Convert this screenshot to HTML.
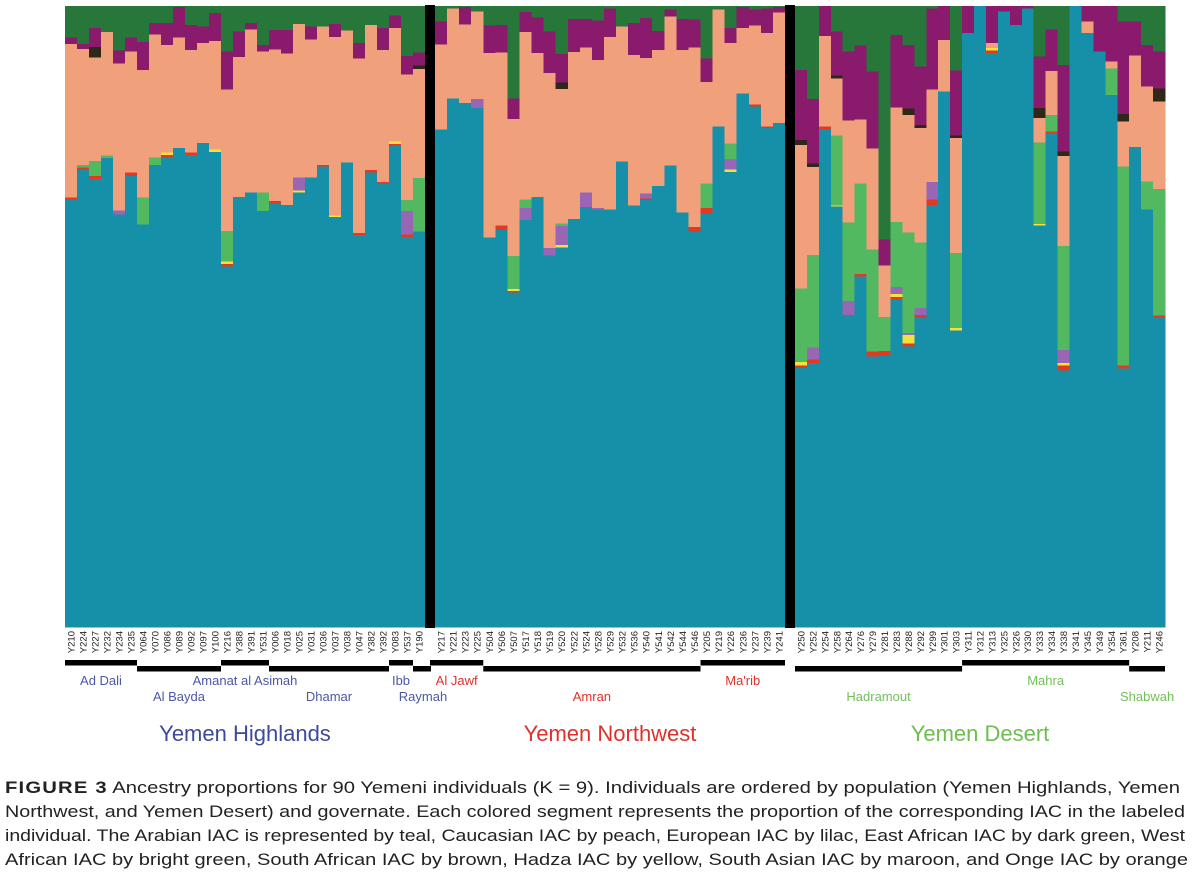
<!DOCTYPE html>
<html><head><meta charset="utf-8"><style>
body{margin:0;background:#fff;width:1200px;height:879px;overflow:hidden}
svg{display:block}
</style></head><body>
<svg id="chart" width="1200" height="879" viewBox="0 0 1200 879" xmlns="http://www.w3.org/2000/svg" font-family="Liberation Sans, sans-serif">
<g id="bars" shape-rendering="crispEdges"></g>
<g id="seps"></g>
<g id="ticks"></g>
<g id="gov"></g>
<text x="245" y="741" font-size="22" fill="#3d4a9c" text-anchor="middle">Yemen Highlands</text>
<text x="610" y="741" font-size="22" fill="#e0302c" text-anchor="middle">Yemen Northwest</text>
<text x="980" y="741" font-size="22" fill="#6cbf4e" text-anchor="middle">Yemen Desert</text>
<g font-size="17" fill="#222">
<text x="5" y="793" textLength="1175" lengthAdjust="spacingAndGlyphs"><tspan font-weight="bold" letter-spacing="1">FIGURE 3</tspan>   Ancestry proportions for 90 Yemeni individuals (K = 9). Individuals are ordered by population (Yemen Highlands, Yemen</text>
<text x="5" y="817" textLength="1180" lengthAdjust="spacingAndGlyphs">Northwest, and Yemen Desert) and governate. Each colored segment represents the proportion of the corresponding IAC in the labeled</text>
<text x="5" y="841" textLength="1180" lengthAdjust="spacingAndGlyphs">individual. The Arabian IAC is represented by teal, Caucasian IAC by peach, European IAC by lilac, East African IAC by dark green, West</text>
<text x="5" y="865" textLength="1183" lengthAdjust="spacingAndGlyphs">African IAC by bright green, South African IAC by brown, Hadza IAC by yellow, South Asian IAC by maroon, and Onge IAC by orange</text>
</g>
</svg>
<script>
const samples = ["Y210","Y224","Y227","Y232","Y234","Y235","Y064","Y070","Y086","Y089","Y092","Y097","Y100","Y216","Y388","Y391","Y531","Y006","Y018","Y025","Y031","Y036","Y037","Y038","Y047","Y382","Y392","Y083","Y537","Y190",
"Y217","Y221","Y223","Y225","Y504","Y506","Y507","Y517","Y518","Y519","Y520","Y522","Y524","Y528","Y529","Y532","Y536","Y540","Y541","Y542","Y544","Y546","Y205","Y219","Y226","Y236","Y237","Y239","Y241",
"Y250","Y252","Y254","Y258","Y264","Y276","Y279","Y281","Y283","Y288","Y292","Y299","Y301","Y303","Y311","Y312","Y313","Y325","Y326","Y330","Y333","Y334","Y338","Y341","Y345","Y349","Y354","Y361","Y208","Y211","Y246"];
const teal = [69.0,73.8,72.2,75.6,66.4,72.8,64.9,74.5,75.7,77.2,76.1,78.0,76.6,58.1,69.2,70.1,67.1,68.3,68.0,70.0,72.4,74.2,66.0,74.9,63.2,73.3,71.5,77.6,62.9,63.7,
80.2,85.2,84.4,83.6,62.8,64.0,53.9,65.5,69.3,59.8,61.2,65.7,67.8,67.3,67.3,75.0,67.9,68.8,71.1,74.4,66.8,63.7,66.5,80.7,73.3,86.0,83.9,80.4,81.2,
41.7,42.5,80.2,67.7,50.3,56.5,43.7,43.7,52.8,45.2,49.8,68.0,86.3,47.8,95.7,100,92.5,99.2,97.0,99.7,64.7,79.6,41.4,100,95.7,92.7,85.8,41.7,77.3,67.3,49.9];
const onge = [.3,.3,.5,0,0,.5,0,0,.4,0,.4,0,0,.4,0,0,0,.4,0,0,0,.3,0,0,.3,.4,.2,.3,.4,0,
0,0,0,0,0,.7,.3,0,0,0,0,0,0,0,0,0,0,.3,0,0,0,.8,1.0,0,0,0,.3,.3,0,
.4,.6,.4,0,0,.4,.8,.8,.4,.5,.5,.9,0,0,0,0,.4,0,0,0,0,.3,.8,0,0,0,0,.5,0,0,.3];
const hadza = [0,0,0,0,0,0,0,0,.4,0,0,0,.4,.4,0,0,0,0,0,.3,0,0,.3,0,0,0,0,.4,0,0,
0,0,0,0,0,0,.3,0,0,0,.4,0,0,0,0,0,0,0,0,0,0,0,0,0,.4,0,0,0,0,
.6,0,0,.2,0,0,0,0,.5,1.3,0,0,0,.4,0,0,.4,0,0,0,.3,0,.4,0,0,0,0,0,0,0,0];
const european = [0,0,0,0,.7,0,0,0,0,0,0,0,0,0,0,0,0,0,0,2.1,0,0,0,0,0,0,0,0,3.8,0,
0,0,0,1.5,0,0,0,2.0,0,1.2,3.1,0,2.3,.2,0,0,0,.8,0,0,0,0,0,0,1.7,0,0,0,0,
0,1.9,0,0,2.3,0,0,0,1.1,.4,1.1,2.8,0,0,0,0,0,0,0,0,0,0,2.1,0,0,0,0,0,0,0,0];
const westAfrican = [0,.4,2.4,.4,0,0,4.3,1.2,0,0,0,0,0,4.9,0,0,3.0,0,0,0,0,0,0,0,0,0,0,0,1.8,8.6,
0,0,0,0,0,0,5.3,1.3,0,0,.4,0,0,0,0,0,0,0,0,0,0,0,3.9,0,2.5,0,0,0,0,
11.8,14.9,0,11.2,12.6,14.6,16.4,5.4,10.5,16.1,10.6,0,0,12.1,0,0,0,0,0,0,13.1,2.7,16.7,0,0,0,4.3,32.0,0,4.5,20.4];
const caucasian = [24.7,18.7,16.7,19.9,23.6,19.5,20.6,19.8,17.3,17.8,16.5,16.1,17.5,22.8,22.6,26.3,22.7,24.4,24.4,24.7,22.2,22.3,28.7,21.2,28.1,23.4,21.3,18.3,20.2,17.5,
13.7,14.5,12.6,14.1,29.7,27.9,22.1,27.0,23.2,28.2,21.7,26.9,23.4,23.9,27.8,21.8,24.3,21.8,21.9,24.0,26.2,28.9,16.3,18.8,16.2,10.5,12.7,15.0,17.8,
23.1,14.2,14.5,9.2,16.4,10.3,16.3,8.3,18.4,18.9,18.4,14.9,8.3,18.5,0,0,.8,0,0,0,3.9,7.1,14.5,0,1.9,0,1.1,7.3,14.7,15.3,14.1];
const southAfrican = [0,0,1.7,0,0,0,0,0,0,0,0,0,0,0,0,0,0,0,0,0,0,0,0,0,0,0,0,0,0,.6,
0,0,0,0,0,0,0,0,0,0,1.0,0,0,0,0,0,0,0,0,0,0,0,0,0,0,0,0,0,0,
.8,.5,0,.5,0,0,0,0,0,1.1,.5,0,0,.4,0,0,0,0,0,0,1.6,0,.7,0,0,0,0,1.2,0,0,2.1];
const southAsian = [1.1,.8,3.0,0,2.1,2.3,4.5,1.8,3.5,4.9,4.0,2.7,4.5,6.1,4.1,1.0,1.1,3.1,3.8,0,2.1,0,2.1,0,2.5,0,3.5,2.0,3.0,2.1,
3.7,0,2.8,0,4.4,4.4,3.3,3.2,5.7,6.7,4.6,5.3,4.6,6.3,4.6,0,5.1,6.4,3.0,1.1,5.0,4.5,3.8,0,2.4,3.4,2.6,4.0,.9,
11.3,10.4,4.8,7.1,11.1,11.9,12.4,4.2,11.7,10.2,9.4,13.1,5.4,10.5,4.3,0,5.9,.8,3.0,.3,8.3,6.7,14.0,0,2.4,7.3,8.9,14.9,5.5,6.7,5.9];
const eastAfrican = [5.0,6.1,3.5,4.1,7.1,5.0,5.7,2.7,2.7,.1,3.0,3.2,1.1,7.3,4.0,2.7,6.2,3.8,3.8,2.8,3.2,3.2,2.8,3.9,5.9,3.0,3.5,1.5,8.0,7.4,
2.4,.3,.1,.8,3.1,3.0,14.8,.9,1.8,4.0,7.7,2.0,2.0,2.3,.3,3.2,2.7,1.9,4.0,.5,2.0,2.1,8.4,.5,3.5,.1,.5,.3,.1,
10.2,14.9,0,4.0,7.3,6.3,10.5,37.5,4.6,6.2,9.7,.3,0,10.3,0,0,0,0,0,0,8.1,3.7,9.4,0,0,0,0,2.4,2.4,6.2,7.3];
const regionSizes = [30,29,31];
const govNames = ["Ad Dali","Al Bayda","Amanat al Asimah","Dhamar","Ibb","Raymah","Al Jawf","Amran","Ma'rib","Hadramout","Mahra","Shabwah"];
const govCounts = [6,7,4,10,2,1,4,18,7,14,14,3];

const NS="http://www.w3.org/2000/svg";
const series=[["arabian",teal,"#1590a8"],["onge",onge,"#e23a22"],["hadza",hadza,"#f3e23e"],["european",european,"#9966b5"],["west-african",westAfrican,"#52b961"],["caucasian",caucasian,"#f0a17c"],["south-african",southAfrican,"#2f2818"],["south-asian",southAsian,"#8a1a6c"],["east-african",eastAfrican,"#27773a"]];
const panels=[[65,425],[435,785],[795,1165]];
const Y0=627,Y1=6;
function yScale(f){return Y0-f*(Y0-Y1);}
function xBand(i){let s=0;for(let r=0;r<3;r++){if(i<s+regionSizes[r]){const w=(panels[r][1]-panels[r][0])/regionSizes[r];return [panels[r][0]+(i-s)*w,w,r];}s+=regionSizes[r];}}
function mk(tag,attrs,parent){const e=document.createElementNS(NS,tag);for(const k in attrs)e.setAttribute(k,attrs[k]);parent.appendChild(e);return e;}
const gb=document.getElementById('bars');
for(let i=0;i<samples.length;i++){
  const [x,w]=xBand(i);
  let tot=0;series.forEach(s=>tot+=s[1][i]);
  let cum=0;
  series.forEach(s=>{const v=s[1][i]/tot;if(v<=0)return;
    const yt=yScale(cum+v),yb=yScale(cum);
    const r=mk('rect',{x:x.toFixed(2),y:yt.toFixed(2),width:(w+0.6).toFixed(2),height:(yb-yt+0.4).toFixed(2),fill:s[2]},gb);
    
    
    cum+=v;});
}
const gs=document.getElementById('seps');
[[425,435],[785,795]].forEach((p,k)=>{const r=mk('rect',{x:p[0],y:5,width:p[1]-p[0],height:623,fill:'#000'},gs);

});
const gt=document.getElementById('ticks');
for(let i=0;i<samples.length;i++){const [x,w]=xBand(i);const cx=x+w/2+3.5;
 const t=mk('text',{x:0,y:0,'font-size':'9.5',fill:'#222','text-anchor':'end',transform:`translate(${cx.toFixed(2)},631) rotate(-90)`},gt);
 t.textContent=samples[i];
 
 }
const gg=document.getElementById('gov');
const govColors=["#4a58a6","#4a58a6","#4a58a6","#4a58a6","#4a58a6","#4a58a6","#e0302c","#e0302c","#e0302c","#72c05a","#72c05a","#72c05a"];
const govLevel=[0,1,0,1,0,1,0,1,0,1,0,1];
let idx=0;
govNames.forEach((n,k)=>{const a=xBand(idx);const b=xBand(idx+govCounts[k]-1);
 let x0=a[0],x1=b[0]+b[1];
 if(n==="Raymah")x1=431; if(n==="Al Jawf")x0=430;
 const y=govLevel[k]?666:660;
 const r=mk('rect',{x:x0,y:y,width:x1-x0,height:5.5,fill:'#000'},gg);
 
 
 let cx=(x0+x1)/2; if(n==="Raymah")cx=423;
 const t=mk('text',{x:cx,y:govLevel[k]?701:685,'font-size':'13',fill:govColors[k],'text-anchor':'middle'},gg);
 t.textContent=n;
 
 
 idx+=govCounts[k];});
</script>
</body></html>
